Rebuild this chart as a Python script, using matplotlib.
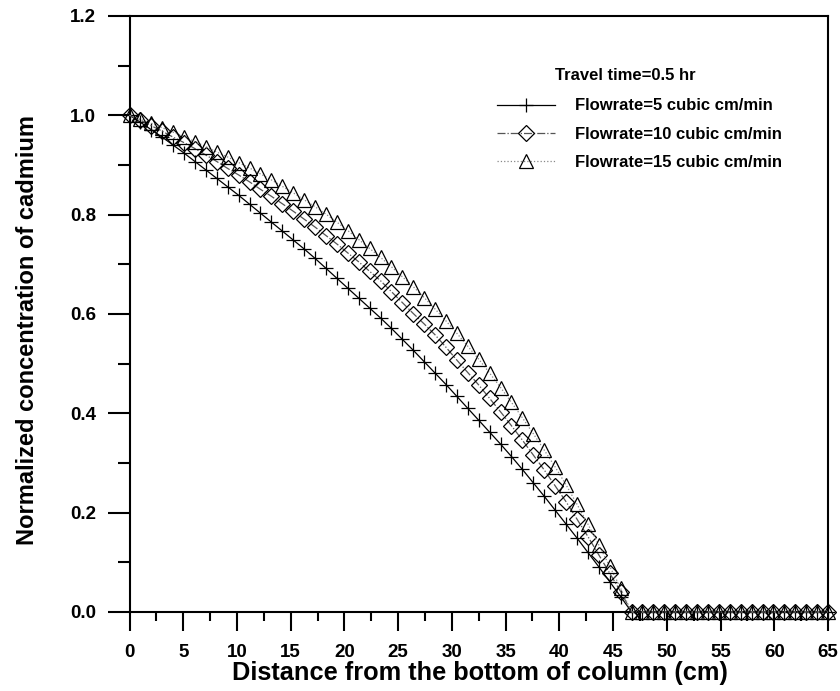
import numpy as np
import matplotlib
matplotlib.use("Agg")
import matplotlib.pyplot as plt
from matplotlib.ticker import MultipleLocator

plt.rcParams['font.family'] = ['Liberation Sans', 'DejaVu Sans']
plt.rcParams['font.weight'] = 'bold'

# 65 sample points evenly spaced from 0 to 65 cm
distance = np.linspace(0, 65, 65)

flow5 = [1.000, 0.986, 0.971, 0.956, 0.940, 0.924, 0.907, 0.890, 0.873, 0.856,
         0.839, 0.821, 0.803, 0.785, 0.767, 0.749, 0.731, 0.712, 0.692, 0.672,
         0.652, 0.632, 0.612, 0.592, 0.571, 0.549, 0.527, 0.504, 0.481, 0.458,
         0.434, 0.410, 0.386, 0.362, 0.338, 0.313, 0.287, 0.260, 0.233, 0.205,
         0.177, 0.149, 0.120, 0.091, 0.061, 0.031] + [0.0] * 19

flow10 = [1.000, 0.990, 0.979, 0.968, 0.956, 0.945, 0.933, 0.920, 0.907, 0.893,
          0.880, 0.866, 0.851, 0.837, 0.822, 0.807, 0.791, 0.775, 0.758, 0.741,
          0.723, 0.705, 0.686, 0.667, 0.645, 0.623, 0.601, 0.580, 0.558, 0.533,
          0.507, 0.482, 0.457, 0.430, 0.403, 0.375, 0.346, 0.316, 0.286, 0.254,
          0.222, 0.187, 0.152, 0.115, 0.078, 0.041] + [0.0] * 19

flow15 = [1.000, 0.992, 0.984, 0.975, 0.966, 0.957, 0.947, 0.937, 0.926, 0.916,
          0.905, 0.894, 0.882, 0.870, 0.857, 0.844, 0.830, 0.816, 0.801, 0.785,
          0.768, 0.750, 0.732, 0.714, 0.695, 0.675, 0.655, 0.633, 0.610, 0.586,
          0.561, 0.535, 0.509, 0.481, 0.452, 0.422, 0.391, 0.359, 0.326, 0.292,
          0.256, 0.217, 0.177, 0.135, 0.092, 0.048] + [0.0] * 19

labels = ["Flowrate=5 cubic cm/min", "Flowrate=10 cubic cm/min", "Flowrate=15 cubic cm/min"]
legend_title = "Travel time=0.5 hr"

W, H = 840, 691
fig = plt.figure(figsize=(W / 100, H / 100), dpi=100)
ax = fig.add_axes([129.5 / W, 79 / H, (828 - 129.5) / W, (612 - 16) / H])

ax.plot(distance, flow5, color='black', lw=0.9, ls='-', marker='+', ms=10,
        mew=0.9, clip_on=False, label=labels[0], zorder=3)
ax.plot(distance, flow10, color='#555555', lw=0.9, ls='-.', marker='D', ms=8.5,
        mfc='none', mec='black', mew=0.9, clip_on=False, label=labels[1], zorder=3)
ax.plot(distance, flow15, color='#888888', lw=0.9, ls=':', marker='^', ms=10.5,
        mfc='none', mec='black', mew=0.9, clip_on=False, label=labels[2], zorder=3)

ax.set_xlim(0, 65)
ax.set_ylim(0, 1.2)
ax.xaxis.set_major_locator(MultipleLocator(5))
ax.xaxis.set_minor_locator(MultipleLocator(2.5))
ax.yaxis.set_major_locator(MultipleLocator(0.2))
ax.yaxis.set_minor_locator(MultipleLocator(0.1))
ax.yaxis.set_major_formatter(plt.FuncFormatter(lambda v, p: f"{v:.1f}"))

for s in ax.spines.values():
    s.set_linewidth(1.5)
ax.tick_params(axis='x', which='major', direction='out', length=14, width=1.5,
               pad=9, labelsize=13.5)
ax.tick_params(axis='x', which='minor', direction='out', length=6.5, width=1.5)
ax.tick_params(axis='y', which='major', direction='out', length=16, width=1.5,
               pad=8, labelsize=13.5)
ax.tick_params(axis='y', which='minor', direction='out', length=8.5, width=1.5)
for lab in ax.get_xticklabels() + ax.get_yticklabels():
    lab.set_fontweight('bold')

ax.set_xlabel("Distance from the bottom of column (cm)", fontsize=18.3, fontweight='bold',
              va='center')
ax.xaxis.set_label_coords(0.571, (H - 673) / H, transform=fig.transFigure)
ax.set_ylabel("Normalized concentration of cadmium", fontsize=17, fontweight='bold',
              va='center')
ax.yaxis.set_label_coords(28 / W, (H - 330) / H, transform=fig.transFigure)

leg = ax.legend(loc='upper left', bbox_to_anchor=(497 / W, (H - 98.5) / H),
                bbox_transform=fig.transFigure, frameon=False,
                prop={'weight': 'bold', 'size': 12}, handlelength=3.5,
                handletextpad=1.2, labelspacing=0.8, borderpad=0, borderaxespad=0)
fig.text(555 / W, (H - 75) / H, legend_title, fontsize=12, fontweight='bold',
         ha='left', va='center')

fig.savefig("out.png", dpi=100)
